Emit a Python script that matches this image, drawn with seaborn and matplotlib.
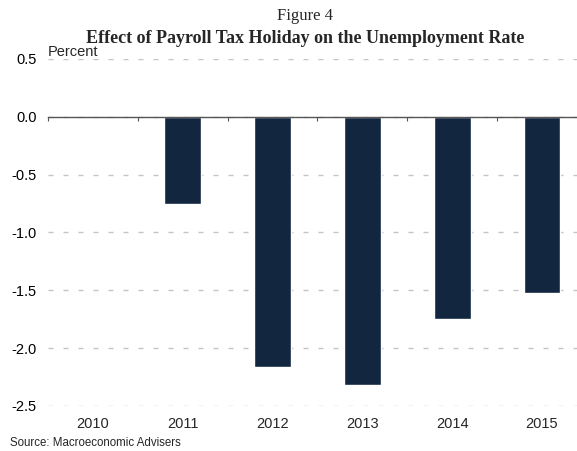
import matplotlib
matplotlib.use("Agg")
import matplotlib.pyplot as plt
import seaborn as sns
import pandas as pd

years = ["2010", "2011", "2012", "2013", "2014", "2015"]
effect = [0.0, -0.75, -2.16, -2.32, -1.75, -1.52]
y_ticks = [0.5, 0.0, -0.5, -1.0, -1.5, -2.0, -2.5]

sns.set_theme(style="white")
plt.rcParams["font.family"] = ["Liberation Sans", "DejaVu Sans"]

df = pd.DataFrame({"year": years, "effect": effect})

fig = plt.figure(figsize=(5.77, 4.51), dpi=100)
ax = fig.add_axes([0.0832, 0.0998, 1.0 - 0.0832, 0.8692 - 0.0998])

sns.barplot(data=df, x="year", y="effect", color="#12263F", width=0.41,
            saturation=1, ax=ax, zorder=3)

ax.set_ylim(-2.5, 0.5)
ax.set_xlim(-0.5, 5.39)
ax.set_yticks(y_ticks)
ax.set_yticklabels([f"{v:.1f}" for v in y_ticks], fontsize=10.5, color="black")
ax.tick_params(axis="y", length=0, pad=8)
ax.yaxis.grid(True, color="#C4C4C4", linewidth=1, linestyle=(0, (3.6, 7.2)))
ax.xaxis.grid(False)

for s in ["top", "right", "left"]:
    ax.spines[s].set_visible(False)
ax.spines["bottom"].set_position(("data", 0))
ax.spines["bottom"].set_color("#555555")
ax.spines["bottom"].set_linewidth(1)
ax.spines["bottom"].set_zorder(4)
ax.set_xticks([-0.5, 0.5, 1.5, 2.5, 3.5, 4.5])
ax.set_xticklabels([])
ax.tick_params(axis="x", bottom=True, length=3, width=0.8, color="#555555", direction="out")
ax.set_xlabel("")
ax.set_ylabel("")

# year labels sit under the plot, not on the zero line
sec = ax.secondary_xaxis("bottom")
sec.set_xticks(range(len(years)))
sec.set_xticklabels(years, fontsize=10.5)
sec.tick_params(length=0, pad=8)
sec.spines["bottom"].set_visible(False)

ax.text(0.0, 1.0, "Percent", transform=ax.transAxes, ha="left", va="bottom",
        fontsize=10.5)

fig.text(0.529, 0.965, "Figure 4", ha="center", va="center", fontsize=12,
         family=["Liberation Serif", "DejaVu Serif"])
fig.text(0.529, 0.915, "Effect of Payroll Tax Holiday on the Unemployment Rate",
         ha="center", va="center", fontsize=13, fontweight="bold",
         family=["Liberation Serif", "DejaVu Serif"])
fig.text(0.017, 0.018, "Source: Macroeconomic Advisers", ha="left", va="center",
         fontsize=8.3)

fig.savefig("out.png", dpi=100)
